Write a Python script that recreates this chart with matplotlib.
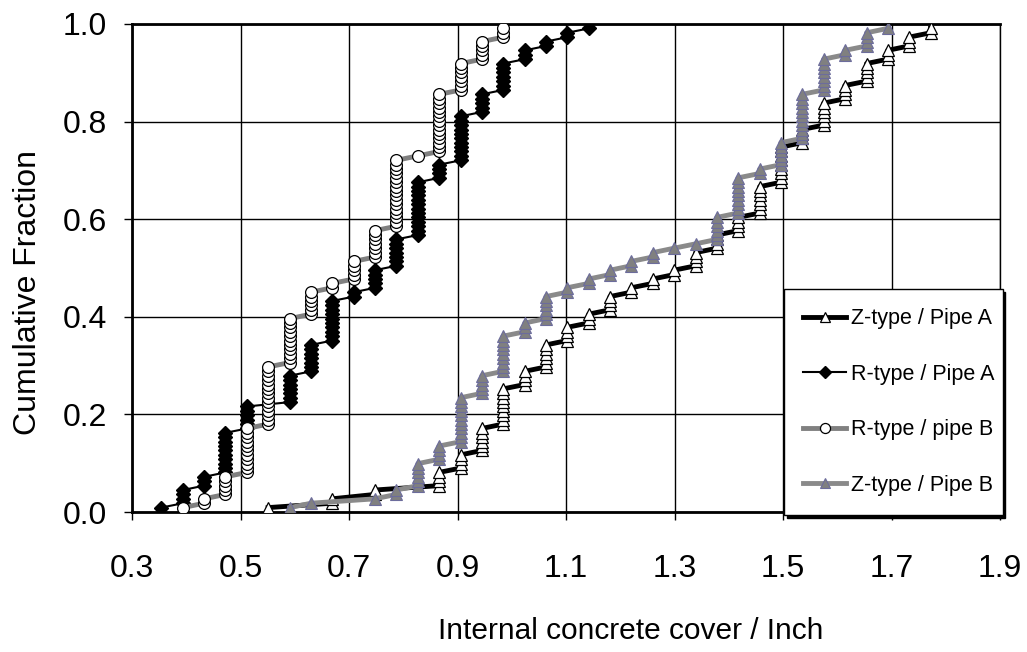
import numpy as np
import matplotlib
matplotlib.use('Agg')
from matplotlib import pyplot as plt
from matplotlib.ticker import MultipleLocator, FormatStrFormatter

plt.rcParams['font.family'] = ['Liberation Sans', 'DejaVu Sans']

# cover readings (inch) and how many readings fall on each value
z_a_cover = [0.551, 0.669, 0.748, 0.866, 0.906, 0.945, 0.984, 1.024, 1.063, 1.102,
             1.142, 1.181, 1.220, 1.260, 1.299, 1.339, 1.378, 1.417, 1.457, 1.496,
             1.535, 1.575, 1.614, 1.654, 1.693, 1.732, 1.772]
z_a_count = [1, 2, 2, 4, 4, 6, 9, 4, 6, 4, 3, 4, 2, 2, 2, 4, 4, 4, 7, 9, 4, 6, 4, 5, 3, 3, 2]

r_a_cover = [0.354, 0.394, 0.433, 0.472, 0.512, 0.591, 0.630, 0.669, 0.709, 0.748,
             0.787, 0.827, 0.866, 0.906, 0.945, 0.984, 1.024, 1.063, 1.102, 1.142]
r_a_count = [1, 4, 3, 10, 6, 7, 7, 10, 2, 5, 7, 13, 4, 11, 5, 7, 3, 2, 2, 1]

r_b_cover = [0.394, 0.433, 0.472, 0.512, 0.551, 0.591, 0.630, 0.669, 0.709, 0.748,
             0.787, 0.827, 0.866, 0.906, 0.945, 0.984]
r_b_count = [1, 2, 5, 11, 14, 11, 6, 2, 5, 7, 16, 1, 14, 7, 5, 3]

z_b_cover = [0.591, 0.630, 0.748, 0.787, 0.827, 0.866, 0.906, 0.945, 0.984, 1.024,
             1.063, 1.102, 1.142, 1.181, 1.220, 1.260, 1.299, 1.339, 1.378, 1.417,
             1.457, 1.496, 1.535, 1.575, 1.614, 1.654, 1.693]
z_b_count = [1, 1, 1, 2, 6, 4, 11, 5, 9, 3, 6, 2, 2, 2, 2, 2, 1, 1, 6, 9, 2, 6, 11, 8, 2, 4, 1]

x_ticks = [0.3, 0.5, 0.7, 0.9, 1.1, 1.3, 1.5, 1.7, 1.9]


def cum_fraction(cover, count):
    # every reading gets its own point, ranked i/(n+1)
    x = np.repeat(cover, count)
    n = len(x)
    y = np.arange(1, n + 1) / (n + 1)
    return x, y


fig = plt.figure(figsize=(10.27, 6.52), dpi=100)
ax = fig.add_axes([132 / 1027, 1 - 512 / 652, 868 / 1027, 488 / 652])

x, y = cum_fraction(z_a_cover, z_a_count)
ax.plot(x, y, color='black', lw=3.5, marker='^', ms=9, mfc='white', mec='black',
        mew=0.9, label='Z-type / Pipe A', zorder=3)
x, y = cum_fraction(r_a_cover, r_a_count)
ax.plot(x, y, color='black', lw=1.5, marker='D', ms=7, mfc='black', mec='black',
        label='R-type / Pipe A', zorder=4)
x, y = cum_fraction(r_b_cover, r_b_count)
ax.plot(x, y, color='#808080', lw=3.5, marker='o', ms=8.5, mfc='white', mec='black',
        mew=0.9, label='R-type / pipe B', zorder=5)
x, y = cum_fraction(z_b_cover, z_b_count)
ax.plot(x, y, color='#8a8a8a', lw=3.5, marker='^', ms=9, mfc='#808080', mec='#6c6c9c',
        mew=0.8, label='Z-type / Pipe B', zorder=6)

ax.set_xlim(0.3, 1.9)
ax.set_ylim(0, 1.0)
ax.set_xticks(x_ticks)
ax.xaxis.set_major_formatter(FormatStrFormatter('%.1f'))
ax.yaxis.set_major_locator(MultipleLocator(0.2))
ax.yaxis.set_major_formatter(FormatStrFormatter('%.1f'))
ax.grid(True, color='black', lw=1)
ax.set_axisbelow(True)

for side in ['left', 'bottom', 'top']:
    ax.spines[side].set_linewidth(2)
ax.spines['right'].set_linewidth(1)

ax.tick_params(axis='y', direction='out', length=6, width=1, pad=12, labelsize=23)
ax.tick_params(axis='x', direction='out', length=6, width=1, pad=24, labelsize=23)

ax.set_xlabel('Internal concrete cover / Inch', fontsize=21.5)
ax.xaxis.set_label_coords(0.574, -0.215)
ax.set_ylabel('Cumulative Fraction', fontsize=23)
ax.yaxis.set_label_coords(-0.103, 0.45)

leg = ax.legend(loc='lower left', bbox_to_anchor=(0.751, -0.006, 0.252, 0.469),
                mode='expand', fancybox=False, edgecolor='black', framealpha=1,
                shadow={'color': 'black', 'alpha': 1}, borderpad=0.9,
                labelspacing=1.6, handlelength=2.0, handletextpad=0.2,
                borderaxespad=0, markerscale=0.85, prop={'size': 15.5})
leg.get_frame().set_linewidth(1)
leg.set_zorder(10)

fig.savefig('out.png', dpi=100)
